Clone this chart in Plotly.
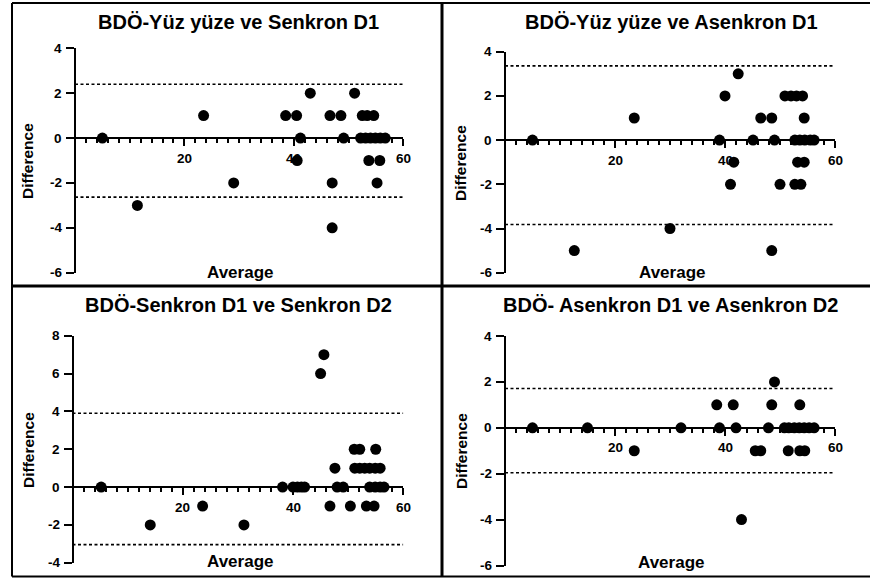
import plotly.graph_objects as go

# ---------------- data ----------------
titles = ["BDÖ-Yüz yüze ve Senkron D1", "BDÖ-Yüz yüze ve Asenkron D1",
          "BDÖ-Senkron D1 ve Senkron D2", "BDÖ- Asenkron D1 ve Asenkron D2"]

p1_avg = [5, 11.4, 23.5, 29.0, 38.5, 40.5, 41.2, 40.6, 43.0, 46.6, 47.0, 47.0, 48.6, 49.1,
          51.1, 52.5, 53.4, 54.6, 52.2, 53.1, 54.0, 54.9, 55.8, 56.7, 53.7, 55.7, 55.2]
p1_diff = [0, -3, 1, -2, 1, 1, 0, -1, 2, 1, -2, -4, 1, 0,
           2, 1, 1, 1, 0, 0, 0, 0, 0, 0, -1, -1, -2]
p1_limits = [2.4, -2.63]

p2_avg = [5, 12.6, 23.5, 30.0, 39.0, 40.0, 42.4, 41.6, 41.0, 45.1, 46.5, 48.5, 49.0, 48.5,
          50.0, 50.9, 52.0, 53.0, 54.1, 54.4, 52.7, 53.6, 54.5, 55.5, 56.2, 53.2, 54.4, 52.7, 53.8]
p2_diff = [0, -5, 1, -4, 0, 2, 3, -1, -2, 0, 1, 1, 0, -5,
           -2, 2, 2, 2, 2, 1, 0, 0, 0, 0, 0, -1, -1, -2, -2]
p2_limits = [3.36, -3.82]

p3_avg = [5.2, 14.1, 23.6, 31.1, 38.1, 40.0, 40.8, 41.5, 42.1, 45.0, 45.6, 46.7, 47.6, 48.0,
          49.1, 50.4, 51.1, 52.1, 55.0, 51.2, 52.1, 53.0, 53.9, 54.9, 55.8, 53.9, 54.9, 55.8,
          56.5, 53.3, 54.7]
p3_diff = [0, -2, -1, -2, 0, 0, 0, 0, 0, 6, 7, -1, 1, 0,
           0, -1, 2, 2, 2, 1, 1, 1, 1, 1, 1, 0, 0, 0,
           0, -1, -1]
p3_limits = [3.9, -3.04]

p4_avg = [5.0, 15.0, 23.5, 32.0, 38.5, 39.0, 41.5, 42.0, 43.0, 45.5, 46.5, 47.9, 48.5, 49.0,
          50.8, 51.6, 52.6, 53.5, 54.4, 55.3, 56.2, 53.6, 51.5, 53.6, 54.5]
p4_diff = [0, 0, -1, 0, 1, 0, 1, 0, -4, -1, -1, 0, 1, 2,
           0, 0, 0, 0, 0, 0, 0, 1, -1, -1, -1]
p4_limits = [1.71, -1.96]

x_range = [0, 60]
x_major_ticks = [20, 40, 60]
y_ranges = [[-6, 4], [-6, 4], [-4, 8], [-6, 4]]

# ---------------- layout geometry (pixels) ----------------
W, H = 870, 578
boxes = [(75, 403.3, 48.3, 272.7),
         (505, 835, 51.7, 272.7),
         (72.5, 403.3, 335.7, 562.8),
         (505, 835, 336, 565.5)]

FONT = "Liberation Sans, Arial, Helvetica, sans-serif"

def fx(px):
    return px / W

def fy(py):
    return 1 - py / H

series = [(p1_avg, p1_diff, p1_limits), (p2_avg, p2_diff, p2_limits),
          (p3_avg, p3_diff, p3_limits), (p4_avg, p4_diff, p4_limits)]

fig = go.Figure()
fig.update_layout(template="none", width=W, height=H, margin=dict(l=0, r=0, t=0, b=0),
                  paper_bgcolor="white", plot_bgcolor="rgba(0,0,0,0)",
                  showlegend=False, font=dict(family=FONT, color="black"))
annotations = []
tickfont = dict(family=FONT, size=13.5, color="black")

for i, ((avg, diff, lim), (l, r, t, b), yr) in enumerate(zip(series, boxes, y_ranges)):
    n = "" if i == 0 else str(i + 1)
    xa, ya = "x" + n, "y" + n
    xo = "x" + str(i + 5)   # overlay x axis carrying the long major ticks
    for v in lim:
        fig.add_trace(go.Scatter(x=x_range, y=[v, v], mode="lines", xaxis=xo, yaxis=ya,
                                 line=dict(color="black", width=1.6, dash="3px,2.5px"),
                                 hoverinfo="skip"))
    fig.add_trace(go.Scatter(x=avg, y=diff, mode="markers", xaxis=xa, yaxis=ya,
                             marker=dict(color="black", size=11, symbol="circle"),
                             cliponaxis=False))
    d0, d1 = fy(b), fy(t)
    pos = d0 + (0 - yr[0]) / (yr[1] - yr[0]) * (d1 - d0)
    # main x axis: line + small ticks every 2 units (crossing at y = 0)
    fig.update_layout({"xaxis" + n: dict(
        domain=[fx(l), fx(r)], range=x_range, anchor="free", position=pos,
        showline=True, linewidth=2, linecolor="black",
        ticks="outside", tickmode="linear", tick0=0, dtick=2,
        ticklen=4, tickwidth=2, tickcolor="black", showticklabels=False,
        showgrid=False, zeroline=False)})
    # overlay x axis: longer major ticks
    fig.update_layout({"xaxis" + str(i + 5): dict(
        overlaying=xa, range=x_range, anchor="free", position=pos, side="bottom",
        showline=False, ticks="outside", tickmode="array", tickvals=x_major_ticks,
        ticklen=7, tickwidth=2, tickcolor="black", showticklabels=False,
        showgrid=False, zeroline=False)})
    # y axis, placed freely at the left edge of the panel (x = 0)
    fig.update_layout({"yaxis" + n: dict(
        domain=[d0, d1], range=yr, anchor="free", position=fx(l), side="left",
        showline=True, linewidth=2, linecolor="black", ticks="outside",
        tickmode="linear", dtick=2, tick0=0, ticklen=8,
        tickwidth=2, tickcolor="black", showgrid=False, showticklabels=False,
        zeroline=False)})
    # tick labels, positioned through the axes' own scales
    for v in range(yr[0], yr[1] + 1, 2):
        annotations.append(dict(text="<b>%d</b>" % v, x=0, y=v, xref=xa, yref=ya,
                                xanchor="right", yanchor="middle", xshift=-11,
                                showarrow=False, font=tickfont))
    for v in x_major_ticks:
        annotations.append(dict(text="<b>%d</b>" % v, x=v, y=0, xref=xa, yref=ya,
                                xanchor="center", yanchor="middle", yshift=-20,
                                showarrow=False, font=tickfont))

title_pos = [(238.3, 21.7), (671.7, 21.7), (238.3, 304.7), (670, 304.7)]
avg_pos = [(240, 272.7), (671.7, 272.7), (240, 561.5), (671, 562)]
diff_pos = [(28, 161), (460, 163), (28, 450), (461, 451)]
for i in range(4):
    annotations.append(dict(text="<b>%s</b>" % titles[i], x=fx(title_pos[i][0]), y=fy(title_pos[i][1]),
                            xref="paper", yref="paper", showarrow=False, xanchor="center",
                            yanchor="middle", font=dict(family=FONT, size=20, color="black")))
    annotations.append(dict(text="<b>Average</b>", x=fx(avg_pos[i][0]), y=fy(avg_pos[i][1]),
                            xref="paper", yref="paper", showarrow=False, xanchor="center",
                            yanchor="middle", font=dict(family=FONT, size=17, color="black")))
    annotations.append(dict(text="<b>Difference</b>", x=fx(diff_pos[i][0]), y=fy(diff_pos[i][1]),
                            xref="paper", yref="paper", showarrow=False, xanchor="center",
                            yanchor="middle", textangle=-90,
                            font=dict(family=FONT, size=15.5, color="black")))

line2 = dict(color="black", width=2)
line3 = dict(color="black", width=3)
shapes = [
    dict(type="line", xref="paper", yref="paper", x0=fx(12), x1=fx(12), y0=fy(3), y1=fy(576.5), line=line2),
    dict(type="line", xref="paper", yref="paper", x0=fx(12), x1=1, y0=fy(3), y1=fy(3), line=line2),
    dict(type="line", xref="paper", yref="paper", x0=fx(12), x1=1, y0=fy(576.5), y1=fy(576.5), line=line2),
    dict(type="line", xref="paper", yref="paper", x0=fx(442), x1=fx(442), y0=fy(3), y1=fy(576.5), line=line3),
    dict(type="line", xref="paper", yref="paper", x0=fx(12), x1=1, y0=fy(286), y1=fy(286), line=line3),
]
fig.update_layout(annotations=annotations, shapes=shapes)
fig.write_html("out.html")
